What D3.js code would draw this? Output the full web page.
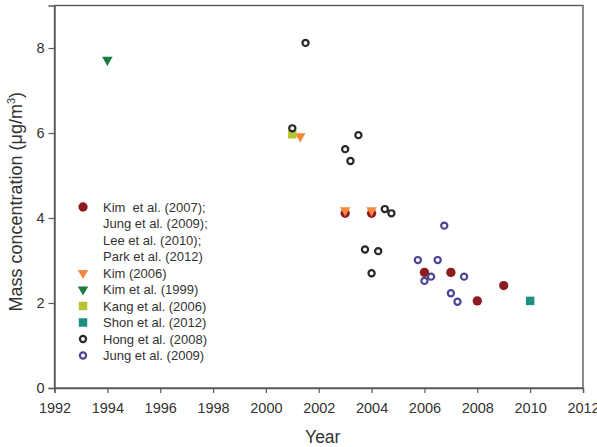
<!DOCTYPE html>
<html>
<head>
<meta charset="utf-8">
<script src="https://cdn.jsdelivr.net/npm/d3@7"></script>
<style>
  html, body { margin: 0; padding: 0; background: #fff; }
  svg { display: block; font-family: "Liberation Sans", Arial, sans-serif; }
</style>
</head>
<body>
<svg id="chart" width="597" height="447"></svg>
<script>
// ---------- data ----------
const xTicks = [1992, 1994, 1996, 1998, 2000, 2002, 2004, 2006, 2008, 2010, 2012];
const yTicks = [0, 2, 4, 6, 8];

const kim2007Years  = [2003, 2004, 2006, 2007, 2008, 2009];
const kim2007Values = [4.11, 4.11, 2.72, 2.72, 2.05, 2.41];

const kim2006Years  = [2001.3, 2003, 2004];
const kim2006Values = [5.92, 4.18, 4.18];

const kim1999Years  = [1994];
const kim1999Values = [7.72];

const kang2006Years  = [2001];
const kang2006Values = [5.97];

const shon2012Years  = [2010];
const shon2012Values = [2.05];

const hong2008Years  = [2001.5, 2001, 2003.5, 2003, 2003.2, 2004.5, 2004.75, 2003.75, 2004.25, 2004];
const hong2008Values = [8.12, 6.11, 5.95, 5.62, 5.34, 4.21, 4.11, 3.26, 3.22, 2.70];

const jung2009Years  = [2006.75, 2005.75, 2006.5, 2006.25, 2006, 2007.5, 2007, 2007.25];
const jung2009Values = [3.82, 3.01, 3.01, 2.62, 2.52, 2.62, 2.23, 2.03];

const legendLabels = [
  ["Kim  et al. (2007);", "Jung et al. (2009);", "Lee et al. (2010);", "Park et al. (2012)"],
  ["Kim (2006)"],
  ["Kim et al. (1999)"],
  ["Kang et al. (2006)"],
  ["Shon et al. (2012)"],
  ["Hong et al. (2008)"],
  ["Jung et al. (2009)"]
];

// ---------- styles ----------
const styles = [
  { type: "circle",  fill: "#8c1c1f", stroke: "none", size: 68 },
  { type: "triDown", fill: "#f5883a", stroke: "none", size: 48 },
  { type: "triDown", fill: "#1f7c3f", stroke: "none", size: 48 },
  { type: "square",  fill: "#b8c333", stroke: "none", size: 72 },
  { type: "square",  fill: "#1f8f83", stroke: "none", size: 72 },
  { type: "ring",    fill: "none", stroke: "#262626", size: 30 },
  { type: "ring",    fill: "none", stroke: "#4a4494", size: 30 }
];

const seriesData = [
  [kim2007Years, kim2007Values],
  [kim2006Years, kim2006Values],
  [kim1999Years, kim1999Values],
  [kang2006Years, kang2006Values],
  [shon2012Years, shon2012Values],
  [hong2008Years, hong2008Values],
  [jung2009Years, jung2009Values]
];

// ---------- layout ----------
const svg = d3.select("#chart");
const pLeft = 54.5, pRight = 583, pTop = 5.5, pBottom = 388;

const x = d3.scaleLinear().domain([1992, 2012]).range([pLeft, pRight]);
const y = d3.scaleLinear().domain([0, 9]).range([pBottom, pTop]);

const axisColor = "#5a5a5a";
const textColor = "#333333";

// frame
svg.append("rect")
  .attr("x", pLeft).attr("y", pTop)
  .attr("width", pRight - pLeft).attr("height", pBottom - pTop)
  .attr("fill", "none").attr("stroke", axisColor).attr("stroke-width", 1.4);

// axes
const xAxis = svg.append("g")
  .attr("transform", `translate(0,${pBottom})`)
  .call(d3.axisBottom(x).tickValues(xTicks).tickFormat(d3.format("d")).tickSize(5).tickPadding(10));
const yAxis = svg.append("g")
  .attr("transform", `translate(${pLeft},0)`)
  .call(d3.axisLeft(y).tickValues(yTicks).tickSize(6).tickPadding(4));

[xAxis, yAxis].forEach(g => {
  g.select(".domain").attr("stroke", axisColor).attr("stroke-width", 1.4);
  g.selectAll(".tick line").attr("stroke", axisColor).attr("stroke-width", 1.2);
  g.selectAll(".tick text").attr("fill", textColor).style("font-size", "14.5px")
    .style("font-family", "'Liberation Sans', Arial, sans-serif");
});

// titles
svg.append("text")
  .attr("x", (pLeft + pRight) / 2 + 4).attr("y", 443)
  .attr("text-anchor", "middle")
  .attr("fill", textColor).style("font-size", "17.5px")
  .text("Year");

const yt = svg.append("text")
  .attr("transform", `translate(22,${(pTop + pBottom) / 2 + 5}) rotate(-90)`)
  .attr("text-anchor", "middle")
  .attr("fill", textColor).style("font-size", "18px");
yt.append("tspan").text("Mass concentration (μg/m");
yt.append("tspan").attr("dy", -7).style("font-size", "11px").text("3");
yt.append("tspan").attr("dy", 7).text(")");

// symbol helper
function symbolPath(st) {
  if (st.type === "square") return d3.symbol(d3.symbolSquare, st.size)();
  if (st.type === "triDown") return d3.symbol(d3.symbolTriangle, st.size)();
  return d3.symbol(d3.symbolCircle, st.size)();
}
function drawSym(g, st, cx, cy) {
  const rot = st.type === "triDown" ? " rotate(180)" : "";
  g.append("path")
    .attr("d", symbolPath(st))
    .attr("transform", `translate(${cx},${cy})${rot}`)
    .attr("fill", st.fill)
    .attr("stroke", st.stroke)
    .attr("stroke-width", st.type === "ring" ? 2.2 : 0);
}

// points
const pts = svg.append("g");
seriesData.forEach((s, i) => {
  const [xs, ys] = s;
  xs.forEach((xv, j) => drawSym(pts, styles[i], x(xv), y(ys[j])));
});

// legend
const lg = svg.append("g");
const lx = 83, tx = 103, ly0 = 207, lh = 16.5;
let row = 0;
legendLabels.forEach((lines, i) => {
  drawSym(lg, styles[i], lx, ly0 + row * lh);
  lines.forEach((t, k) => {
    lg.append("text")
      .attr("x", tx).attr("y", ly0 + (row + k) * lh + 4.5)
      .attr("fill", textColor).style("font-size", "13px")
      .style("white-space", "pre")
      .text(t);
  });
  row += lines.length;
});
</script>
</body>
</html>
